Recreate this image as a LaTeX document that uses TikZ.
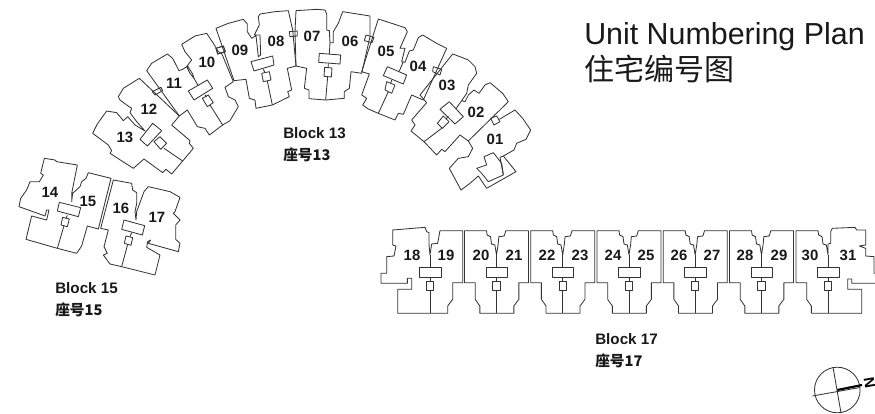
\documentclass[tikz,border=0pt]{standalone}
\usepackage{fontspec}
\setmainfont{Liberation Sans}
\newfontfamily\cjk{Noto Sans CJK SC}
\tikzset{
  plan/.style={draw=black!80,line width=0.62pt,line join=round},
  num/.style={font=\bfseries\fontsize{11.2}{13}\selectfont,text=black!90,inner sep=0pt},
  blocklabel/.style={font=\bfseries\fontsize{11.4}{13}\selectfont,text=black!90,inner sep=0pt,anchor=base west},
  blockcjk/.style={font=\cjk\bfseries\fontsize{11}{13}\selectfont,text=black!90,inner sep=0pt,anchor=base west},
  zoomed/.style={shift={#1},scale=0.33333},
}
\newcommand{\straightcore}{%
  \draw[plan] (-31,143) rectangle (33,172);
  \draw[plan] (-11,183) rectangle (11,211);
  \draw[plan] (0,105)--(0,143) (0,172)--(0,183) (0,211)--(0,280);
}
\begin{document}
\begin{tikzpicture}[x=0.75pt,y=-0.75pt]
\path[use as bounding box] (0,0) rectangle (875,414);
\clip (0,0) rectangle (875,414);
\fill[white] (0,0) rectangle (875,414);

% ---------- Block 17 (straight) ----------
\begin{scope}[zoomed={(430,220)}]
  \draw[plan] (0,105)--(-3,72)--(-3,38)--(-10,35)--(-15,22)--(-112,30)--(-112,75)--(-102,78)--(-108,108)--(-130,110)--(-130,160)--(-147,160)--(-147,190)--(-68,190)--(-68,175)--(-55,175)--(-55,208)--(-97,208)--(-97,280)--(53,280)--(53,258)--(68,238)--(68,188)--(98,188)--(98,32)--(30,32)--(23,70)--(5,72)--cycle;
  \straightcore
\end{scope}
\foreach \c in {496.5,562.7,629,695.2,761.5}{
\begin{scope}[zoomed={(\c,220)}]
  \draw[plan] (0,105)--(-5,75)--(-15,72)--(-18,50)--(-28,45)--(-30,32)--(-96,32)--(-96,188)--(-64,188)--(-64,238)--(-50,258)--(-50,280)--(52,280)--(52,258)--(67,238)--(67,188)--(96,188)--(96,32)--(28,32)--(23,48)--(7,50)--(5,72)--cycle;
  \straightcore
\end{scope}}
\begin{scope}[zoomed={(828,220)}]
  \draw[plan] (0,105)--(-5,75)--(-15,72)--(-18,50)--(-28,45)--(-30,32)--(-96,32)--(-96,188)--(-64,188)--(-64,238)--(-50,258)--(-50,280)--(101,280)--(101,208)--(59,208)--(59,177)--(71,177)--(71,190)--(156,190)--(156,160)--(138,160)--(138,110)--(113,108)--(113,85)--(94,78)--(113,75)--(113,30)--(86,30)--(81,22)--(13,25)--(8,35)--(8,70)--(0,72)--cycle;
  \straightcore
\end{scope}

% ---------- Block 15 ----------
\begin{scope}[zoomed={(0,140)}]
  % 14 / 15
  \draw[plan] (215,185)--(215,160)--(232,75)--(170,65)--(165,60)--(133,55)--(122,100)--(130,105)--(118,125)--(90,125)--(80,150)--(62,175)--(57,200)--(135,228)--(140,210)--(147,210)--(140,240)--(95,228)--(78,298)--(172,325)--(230,340)--(245,318)--(250,300)--(262,258)--(295,267)--(333,115)--(265,98)--(258,115)--(245,125)--(240,140)--(218,160)--cycle;
  \draw[plan] (178,187)--(242,203)--(235,230)--(172,213)--cycle;
  \draw[plan] (188,232)--(208,237)--(202,260)--(183,255)--cycle;
  \draw[plan] (202,226)--(198,235) (192,257)--(172,325);
  % 16 / 17
  \draw[plan] (408,240)--(410,215)--(432,155)--(445,140)--(510,155)--(540,172)--(525,215)--(520,220)--(540,240)--(527,255)--(527,298)--(540,310)--(535,335)--(445,310)--(452,300)--(443,305)--(440,322)--(480,345)--(465,405)--(365,380)--(330,372)--(310,345)--(322,340)--(312,320)--(325,270)--(302,265)--(340,120)--(395,130)--(398,150)--(410,158)--(410,190)--(405,215)--cycle;
  \draw[plan] (372,240)--(434,257)--(427,285)--(365,268)--cycle;
  \draw[plan] (378,288)--(398,293)--(393,316)--(373,310)--cycle;
  \draw[plan] (395,278)--(390,290) (383,313)--(365,380);
\end{scope}

% ---------- Block 13 : 12/13 and 10/11 ----------
\begin{scope}[zoomed={(90,30)}]
  \draw[plan] (165,303)--(140,275)--(120,248)--(125,235)--(110,225)--(90,210)--(85,200)--(100,175)--(148,145)--(268,258)--(245,285)--(300,332)--(298,340)--(310,355)--(278,393)--(245,432)--(228,418)--(218,428)--(162,387)--(130,415)--(60,370)--(65,362)--(55,345)--(8,310)--(22,282)--(50,243)--(62,245)--(80,248)--(100,272)--(113,260)--(135,285)--cycle;
  \draw[plan] (150,328)--(188,280)--(215,302)--(172,348)--cycle;
  \draw[plan] (192,335)--(210,320)--(230,340)--(212,358)--cycle;
  \draw[plan] (222,355)--(278,393);
  \draw[plan] (187,185)--(213,172)--(218,182)--(195,195)--cycle;
  \draw[plan] (312,145)--(300,130)--(290,110)--(305,90)--(285,65)--(275,43)--(315,18)--(350,10)--(370,40)--(385,65)--(395,70)--(430,155)--(405,172)--(415,200)--(435,210)--(445,230)--(420,272)--(398,285)--(358,315)--(345,295)--(322,290)--(292,240)--(268,258)--(170,122)--(185,100)--(232,72)--(248,85)--(267,122)--(278,118)--(293,108)--(308,132)--cycle;
  \draw[plan] (295,183)--(352,150)--(368,175)--(312,210)--cycle;
  \draw[plan] (337,205)--(355,195)--(370,218)--(352,230)--cycle;
  \draw[plan] (312,145)--(325,168) (345,195)--(350,200) (360,225)--(398,285);
  \draw[plan] (378,55)--(400,48)--(406,65)--(383,72)--cycle;
\end{scope}

% ---------- Block 13 : 08/09 and 06/07 ----------
\begin{scope}[zoomed={(210,0)}]
  \draw[plan] (145,170)--(138,107)--(125,115)--(112,95)--(112,72)--(100,58)--(55,70)--(18,85)--(72,242)--(108,238)--(118,295)--(135,300)--(138,325)--(187,315)--(238,290)--(233,275)--(245,270)--(232,205)--(258,198)--(248,90)--(235,32)--(195,35)--(150,42)--(145,50)--(148,75)--(133,105)--(150,105)--(152,165)--cycle;
  \draw[plan] (123,185)--(188,168)--(192,195)--(132,213)--cycle;
  \draw[plan] (155,220)--(178,215)--(183,240)--(160,245)--cycle;
  \draw[plan] (160,208)--(165,218) (172,243)--(187,315);
  \draw[plan] (18,145)--(40,138)--(46,155)--(23,162)--cycle;
  \draw[plan] (238,95)--(262,93)--(262,108)--(240,110)--cycle;
  \draw[plan] (360,128)--(358,92)--(350,90)--(350,42)--(345,30)--(320,28)--(258,32)--(255,95)--(258,198)--(290,205)--(283,265)--(297,270)--(297,296)--(347,300)--(403,295)--(403,275)--(418,265)--(423,215)--(455,220)--(480,110)--(480,48)--(398,35)--(385,70)--(370,95)--(370,128)--cycle;
  \draw[plan] (328,160)--(392,165)--(390,192)--(326,187)--cycle;
  \draw[plan] (344,202)--(366,204)--(364,231)--(342,229)--cycle;
  \draw[plan] (360,128)--(358,162) (355,190)--(355,203) (353,230)--(347,300);
  \draw[plan] (468,105)--(492,112)--(486,128)--(463,122)--cycle;
\end{scope}

% ---------- Block 13 : 04/05 ----------
\begin{scope}[zoomed={(350,15)}]
  \draw[plan] (155,140)--(165,100)--(150,100)--(172,50)--(165,38)--(125,25)--(85,12)--(35,170)--(58,177)--(35,240)--(50,250)--(38,270)--(55,282)--(85,295)--(135,315)--(145,295)--(160,298)--(185,240)--(220,255)--(290,100)--(260,85)--(218,60)--(205,68)--(190,105)--(178,108)--(165,142)--cycle;
  \draw[plan] (112,155)--(170,180)--(160,207)--(100,182)--cycle;
  \draw[plan] (110,200)--(135,210)--(125,235)--(105,225)--cycle;
  \draw[plan] (160,140)--(148,168) (125,195)--(122,205) (115,230)--(85,295);
  \draw[plan] (250,155)--(275,163)--(270,180)--(248,170)--cycle;
\end{scope}

% ---------- Block 13 : 02/03 and 01 ----------
\begin{scope}[zoomed={(400,50)}]
  \draw[plan] (185,152)--(200,130)--(205,105)--(230,70)--(225,50)--(205,30)--(185,22)--(158,12)--(60,135)--(80,158)--(35,210)--(45,225)--(33,243)--(72,275)--(110,315)--(125,298)--(135,305)--(180,255)--(205,273)--(325,155)--(308,130)--(270,98)--(255,105)--(237,130)--(222,120)--(205,135)--(195,155)--cycle;
  \draw[plan] (120,178)--(148,155)--(190,200)--(165,222)--cycle;
  \draw[plan] (112,220)--(130,198)--(147,215)--(127,235)--cycle;
  \draw[plan] (185,152)--(168,176) (138,208)--(145,198) (125,235)--(72,275);
  \draw[plan] (272,205)--(290,198)--(300,215)--(282,225)--cycle;
  \draw[plan] (205,273)--(218,295)--(205,320)--(175,325)--(148,355)--(183,420)--(210,400)--(235,378)--(260,415)--(348,365)--(310,318)--(342,300)--(350,280)--(378,268)--(392,240)--(368,205)--(345,180)--(298,208);
  \draw[plan] (252,320)--(280,308)--(305,340)--(310,375)--(265,395)--(245,370)--(230,355)--(260,345)--cycle;
  \draw[plan] (310,375)--(300,322)--(310,318);
\end{scope}

% ---------- Unit numbers ----------
\foreach \n/\x/\y in {01/495/139,02/476/112,03/447/85,04/418/66,05/386/51,06/350/41,07/312/36,08/276/41,09/240/50,10/207/62,11/174/83,12/149/109,13/125/137,
  14/50/192,15/88/201,16/121/208,17/157/217,
  18/412/255,19/446/255,20/481/255,21/514/255,22/547/255,23/580/255,24/613/255,25/646/255,26/679/255,27/712/255,28/745/255,29/779/255,30/810/255,31/848/255}{
  \node[num] (u\n) at (\x,\y) {\n};
}

% ---------- Block labels ----------
\node[blocklabel] (b13) at (283,138) {Block 13};
\node[blockcjk] (c13) at (283,160) {座号13};
\node[blocklabel] (b15) at (55,293) {Block 15};
\node[blockcjk] (c15) at (55,315) {座号15};
\node[blocklabel] (b17) at (595,344) {Block 17};
\node[blockcjk] (c17) at (595,366) {座号17};

% ---------- Title ----------
\node[inner sep=0pt,anchor=base west,font=\fontsize{22.8}{26}\selectfont,text=black!90] (title) at (584,44) {Unit Numbering Plan};
\node[inner sep=0pt,anchor=base west,font=\cjk\fontsize{22.5}{26}\selectfont,text=black!90] (titlecn) at (584,80) {住宅编号图};

% ---------- North sign ----------
\draw[plan] (837.3,390) circle (22.8);
\draw[plan] (812.5,396)--(860,387.5);
\draw[plan] (833,367)--(841,413);
\draw[black,line width=1.6pt] (837.3,390)--(862,385);
\node[inner sep=0pt,font=\bfseries\fontsize{11}{12}\selectfont,rotate=-80] (north) at (869.5,383) {N};
\end{tikzpicture}
\end{document}
